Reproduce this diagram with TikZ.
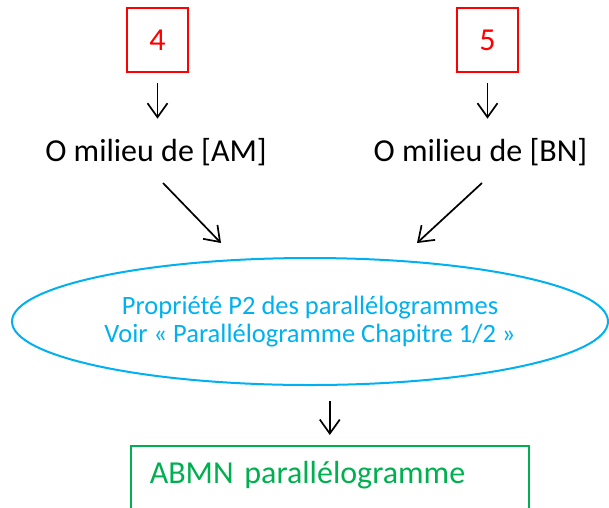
\documentclass[tikz,border=0pt]{standalone}
\usepackage{fontspec}
\setmainfont{Carlito}
\usetikzlibrary{arrows.meta,shapes.geometric}
\definecolor{numred}{HTML}{FF0000}
\definecolor{propblue}{HTML}{00B0F0}
\definecolor{resgreen}{HTML}{00B050}
\begin{document}
\begin{tikzpicture}[x=1pt,y=-1pt,
	arr/.style={line width=1.7pt,-{Straight Barb[length=14pt,width=20pt]}},
	numbox/.style={rectangle, draw=numred, line width=1.6pt, text=numred, minimum width=61pt, minimum height=64pt, font=\fontsize{32}{38}\selectfont},
	fact/.style={inner sep=0pt, anchor=base, font=\fontsize{32}{38}\selectfont}]
	\useasboundingbox (0,0) rectangle (609,507);
	\node (N4) at (157.5, 40)	[numbox]	{4};
	\node (N5) at (487.5, 40)	[numbox]	{5};
	\node (M1) at (156, 161)	[fact]	{O milieu de [AM]};
	\node (M2) at (480.5, 161)	[fact]	{O milieu de [BN]};
	\node (P2) at (310, 321.5)	[ellipse, draw=propblue, line width=2pt, text=propblue, minimum width=596pt, minimum height=127pt, align=center, font=\fontsize{26.5}{28}\selectfont]	{Propriété P2 des parallélogrammes\\Voir « Parallélogramme Chapitre 1/2 »};
	\node (R) at (130, 445)	[rectangle, anchor=north west, draw=resgreen, line width=1.6pt, text=resgreen, inner xsep=19pt, inner ysep=15pt, text width=360pt, align=left, text height=22.6pt, text depth=50pt, font=\fontsize{32}{38}\selectfont]	{ABMN parallélogramme};
	\coordinate (L1) at (163, 183);
	\coordinate (L2) at (221, 243);
	\coordinate (R1) at (482, 183);
	\coordinate (R2) at (417, 243);
	\draw[arr, shorten <=10pt, shorten >=19pt] (N4.south) -- (N4.south |- M1.north);
	\draw[arr, shorten <=10pt, shorten >=19pt] (N5.south) -- (N5.south |- M2.north);
	\draw[arr] (L1) -- (L2);
	\draw[arr] (R1) -- (R2);
	\draw[arr, shorten <=15pt, shorten >=10pt] (R.north |- P2.south) -- (R.north);
\end{tikzpicture}
\end{document}
